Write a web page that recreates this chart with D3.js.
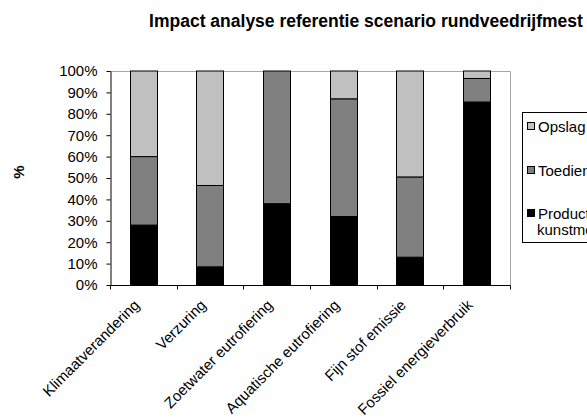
<!DOCTYPE html>
<html>
<head>
<meta charset="utf-8">
<script src="https://cdn.jsdelivr.net/npm/d3@7"></script>
<style>
  body { margin: 0; background: #fff; overflow: hidden; }
  text { font-family: "Liberation Sans", Arial, sans-serif; }
</style>
</head>
<body>
<div id="chart"></div>
<script>
// categories and stacked shares (fractions of 100%)
const categories = ["Klimaatverandering", "Verzuring", "Zoetwater eutrofiering",
    "Aquatische eutrofiering", "Fijn stof emissie", "Fossiel energieverbruik"];
const productie = [0.28, 0.085, 0.38, 0.32, 0.13, 0.855];
const toediening = [0.32, 0.38, 0.62, 0.55, 0.375, 0.11];
const opslag = [0.40, 0.535, 0.0, 0.13, 0.495, 0.035];

const seriesNames = ["Opslag", "Toediening", ["Productie", "kunstmest"]];
const yTicks = [0, 0.1, 0.2, 0.3, 0.4, 0.5, 0.6, 0.7, 0.8, 0.9, 1.0];

const W = 587, H = 418;
const margin = {top: 71, right: 77, bottom: 133, left: 110};
const width = W - margin.left - margin.right;
const height = H - margin.top - margin.bottom;

let svg = d3.select("#chart").append("svg")
    .attr("width", W)
    .attr("height", H);

// title
svg.append("text")
    .attr("x", 366)
    .attr("y", 27)
    .attr("text-anchor", "middle")
    .style("font-size", "17.5px")
    .style("font-weight", "bold")
    .text("Impact analyse referentie scenario rundveedrijfmest");

// y axis title
svg.append("text")
    .attr("transform", "translate(24, 172) rotate(-90)")
    .attr("text-anchor", "middle")
    .style("font-size", "15px")
    .style("font-weight", "bold")
    .text("%");

let g = svg.append("g")
    .attr("transform", `translate(${margin.left}, ${margin.top})`);

let x = d3.scaleBand()
    .domain(categories)
    .range([0, width])
    .paddingInner(0.59)
    .paddingOuter(0.295);

let y = d3.scaleLinear()
    .domain([0, 1])
    .range([height, 0]);

// plot area border (top and right)
g.append("path")
    .attr("d", `M0,0.5H${width + 0.5}V${height}`)
    .attr("fill", "none")
    .attr("stroke", "#a6a6a6")
    .attr("stroke-width", 1);

// stack data
let rows = categories.map((c, i) => ({cat: c, p: productie[i], t: toediening[i], o: opslag[i]}));
let stack = d3.stack().keys(["p", "t", "o"])(rows);
let fills = {p: "#000000", t: "#808080", o: "#c0c0c0"};

stack.forEach(layer => {
    g.selectAll(null)
        .data(layer.filter(d => d[1] - d[0] > 0))
        .enter()
        .append("rect")
        .attr("x", d => Math.round(x(d.data.cat)) + 0.5)
        .attr("width", Math.round(x.bandwidth()))
        .attr("y", d => y(d[1]))
        .attr("height", d => y(d[0]) - y(d[1]))
        .attr("fill", fills[layer.key])
        .attr("stroke", "#000")
        .attr("stroke-width", 1);
});

// y axis
let yAxis = g.append("g")
    .attr("transform", "translate(0.5, 0)")
    .call(d3.axisLeft(y).tickValues(yTicks).tickFormat(d3.format(".0%")).tickSizeInner(4).tickSizeOuter(0).tickPadding(9));
yAxis.selectAll("text").style("font-size", "15px").attr("fill", "#000");
yAxis.select(".domain").attr("stroke", "#000");

// x axis with ticks at category boundaries
let step = x.step();
let xAxisG = g.append("g").attr("transform", `translate(0, ${height + 0.5})`);
xAxisG.append("line")
    .attr("x1", 0).attr("x2", width + 0.5)
    .attr("stroke", "#000");
d3.range(categories.length + 1).forEach(i => {
    let xp = Math.round(i * step) + 0.5;
    xAxisG.append("line")
        .attr("x1", xp).attr("x2", xp)
        .attr("y1", 0).attr("y2", 4)
        .attr("stroke", "#000");
});

// rotated category labels
g.selectAll(".xlab")
    .data(categories)
    .enter()
    .append("text")
    .attr("class", "xlab")
    .attr("text-anchor", "end")
    .attr("transform", d => `translate(${x(d) + x.bandwidth() / 2 - 3}, ${height + 21}) rotate(-45)`)
    .style("font-size", "15px")
    .text(d => d);

// legend
let legend = svg.append("g").attr("transform", "translate(522, 112)");
legend.append("rect")
    .attr("x", 0.5).attr("y", 0.5)
    .attr("width", 120).attr("height", 130)
    .attr("fill", "#fff")
    .attr("stroke", "#000");

let legendKeys = ["o", "t", "p"];
let legendY = [15, 59, 102];
legendKeys.forEach((k, i) => {
    let item = legend.append("g").attr("transform", `translate(5, ${legendY[i]})`);
    item.append("rect")
        .attr("x", 0.5).attr("y", -4.5)
        .attr("width", 7).attr("height", 7)
        .attr("fill", fills[k])
        .attr("stroke", "#000");
    let lines = Array.isArray(seriesNames[i]) ? seriesNames[i] : [seriesNames[i]];
    let t = item.append("text")
        .attr("y", 5)
        .style("font-size", "15px");
    lines.forEach((l, j) => {
        t.append("tspan")
            .attr("x", j === 0 ? 11 : 10)
            .attr("dy", j === 0 ? 0 : 16)
            .text(l);
    });
});
</script>
</body>
</html>
